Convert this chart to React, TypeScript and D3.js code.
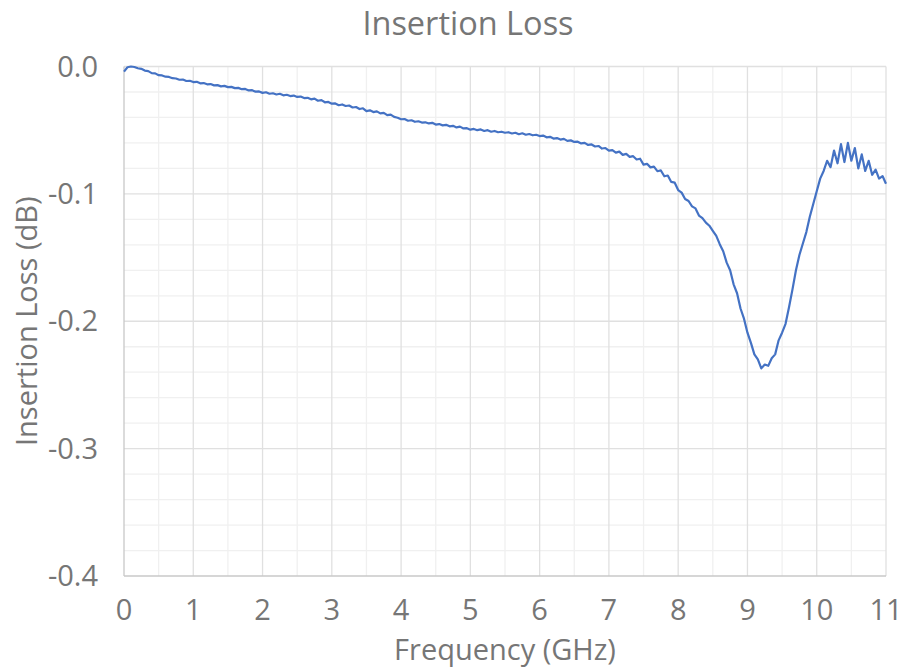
import React, { useEffect, useRef } from 'react';
import * as d3 from 'd3';

// frequency step of the sampled trace (GHz)
const STEP = 0.05;

// Insertion loss (dB), one value every 0.05 GHz from 0 to 11 GHz
const loss: number[] = [
  // 0.00 - 0.95
  -0.0040, -0.0006, 0.0000, -0.0004, -0.0014, -0.0018, -0.0032, -0.0036, -0.0052, -0.0054,
  -0.0068, -0.0070, -0.0080, -0.0082, -0.0092, -0.0094, -0.0104, -0.0102, -0.0114, -0.0112,
  // 1.00 - 1.95
  -0.0122, -0.0120, -0.0132, -0.0130, -0.0140, -0.0138, -0.0148, -0.0146, -0.0156, -0.0152,
  -0.0162, -0.0160, -0.0170, -0.0168, -0.0178, -0.0176, -0.0188, -0.0186, -0.0198, -0.0196,
  // 2.00 - 2.95
  -0.0207, -0.0202, -0.0214, -0.0210, -0.0220, -0.0214, -0.0226, -0.0222, -0.0232, -0.0228,
  -0.0239, -0.0236, -0.0248, -0.0246, -0.0258, -0.0252, -0.0269, -0.0264, -0.0281, -0.0278,
  // 3.00 - 3.95
  -0.0292, -0.0290, -0.0304, -0.0298, -0.0310, -0.0306, -0.0322, -0.0318, -0.0334, -0.0328,
  -0.0350, -0.0344, -0.0358, -0.0352, -0.0368, -0.0364, -0.0382, -0.0378, -0.0396, -0.0402,
  // 4.00 - 4.95
  -0.0414, -0.0412, -0.0426, -0.0422, -0.0434, -0.0430, -0.0440, -0.0438, -0.0447, -0.0442,
  -0.0456, -0.0452, -0.0462, -0.0458, -0.0470, -0.0466, -0.0478, -0.0472, -0.0486, -0.0484,
  // 5.00 - 5.95
  -0.0496, -0.0490, -0.0500, -0.0494, -0.0506, -0.0500, -0.0512, -0.0506, -0.0516, -0.0512,
  -0.0520, -0.0516, -0.0526, -0.0520, -0.0532, -0.0524, -0.0536, -0.0530, -0.0540, -0.0536,
  // 6.00 - 6.95
  -0.0546, -0.0542, -0.0556, -0.0552, -0.0566, -0.0562, -0.0574, -0.0568, -0.0584, -0.0580,
  -0.0592, -0.0590, -0.0604, -0.0600, -0.0616, -0.0612, -0.0628, -0.0624, -0.0644, -0.0640,
  // 7.00 - 7.95
  -0.0660, -0.0656, -0.0676, -0.0668, -0.0694, -0.0686, -0.0710, -0.0704, -0.0730, -0.0724,
  -0.0770, -0.0764, -0.0792, -0.0786, -0.0822, -0.0816, -0.0862, -0.0856, -0.0906, -0.0912,
  // 8.00 - 8.95
  -0.0970, -0.0990, -0.1040, -0.1056, -0.1098, -0.1114, -0.1170, -0.1190, -0.1226, -0.1250,
  -0.1290, -0.1330, -0.1395, -0.1450, -0.1540, -0.1600, -0.1710, -0.1780, -0.1900, -0.1980,
  // 9.00 - 9.95
  -0.2090, -0.2170, -0.2260, -0.2300, -0.2370, -0.2340, -0.2350, -0.2290, -0.2260, -0.2150,
  -0.2090, -0.2020, -0.1890, -0.1750, -0.1600, -0.1480, -0.1390, -0.1300, -0.1180, -0.1080,
  // 10.00 - 10.95
  -0.0980, -0.0880, -0.0820, -0.0740, -0.0790, -0.0660, -0.0760, -0.0610, -0.0750, -0.0600,
  -0.0740, -0.0640, -0.0800, -0.0690, -0.0820, -0.0740, -0.0850, -0.0810, -0.0880, -0.0860,
  // 11.00
  -0.0920,
];

const xTicks = [0, 1, 2, 3, 4, 5, 6, 7, 8, 9, 10, 11];
const yTicks = [0, -0.1, -0.2, -0.3, -0.4];

const W = 906;
const H = 669;
const margin = { top: 66.5, right: 20, bottom: 93, left: 124 };
const textColor = '#767676';
const fontFamily = "'Open Sans', 'Noto Sans', sans-serif";

export default function App() {
  const svgRef = useRef<SVGSVGElement>(null);

  useEffect(() => {
    if (!svgRef.current) return;
    const svg = d3.select(svgRef.current);
    svg.selectAll('*').remove();

    const x = d3.scaleLinear().domain([0, 11]).range([margin.left, W - margin.right]);
    const y = d3.scaleLinear().domain([-0.4, 0]).range([H - margin.bottom, margin.top]);

    svg.append('rect').attr('width', W).attr('height', H).attr('fill', '#fff');

    // minor grid
    const g = svg.append('g');
    g.selectAll('.xminor')
      .data(d3.range(0.5, 11, 1))
      .enter()
      .append('line')
      .attr('x1', d => x(d)).attr('x2', d => x(d))
      .attr('y1', y(0)).attr('y2', y(-0.4))
      .attr('stroke', '#f0f0f0').attr('stroke-width', 1.3);
    g.selectAll('.yminor')
      .data(d3.range(-0.38, 0, 0.02).filter(v => Math.abs(Math.round(v * 50)) % 5 !== 0))
      .enter()
      .append('line')
      .attr('x1', x(0)).attr('x2', x(11))
      .attr('y1', d => y(d)).attr('y2', d => y(d))
      .attr('stroke', '#f0f0f0').attr('stroke-width', 1.3);

    // major grid
    g.selectAll('.xmajor')
      .data(xTicks.slice(1))
      .enter()
      .append('line')
      .attr('x1', d => x(d)).attr('x2', d => x(d))
      .attr('y1', y(0)).attr('y2', y(-0.4))
      .attr('stroke', '#e0e0e0').attr('stroke-width', 1.3);
    g.selectAll('.ymajor')
      .data(yTicks.slice(0, -1))
      .enter()
      .append('line')
      .attr('x1', x(0)).attr('x2', x(11))
      .attr('y1', d => y(d)).attr('y2', d => y(d))
      .attr('stroke', '#e0e0e0').attr('stroke-width', 1.3);

    // axis lines
    svg.append('line')
      .attr('x1', x(0)).attr('x2', x(0))
      .attr('y1', y(0)).attr('y2', y(-0.4))
      .attr('stroke', '#c8c8c8').attr('stroke-width', 1.3);
    svg.append('line')
      .attr('x1', x(0)).attr('x2', x(11))
      .attr('y1', y(-0.4)).attr('y2', y(-0.4))
      .attr('stroke', '#c8c8c8').attr('stroke-width', 1.3);

    // trace
    const line = d3.line<number>()
      .x((_, i) => x(i * STEP))
      .y(d => y(d));
    svg.append('path')
      .datum(loss)
      .attr('fill', 'none')
      .attr('stroke', '#4472C4')
      .attr('stroke-width', 2.2)
      .attr('stroke-linejoin', 'round')
      .attr('d', line);

    // tick labels
    svg.selectAll('.xlab')
      .data(xTicks)
      .enter()
      .append('text')
      .attr('x', d => x(d))
      .attr('y', 620)
      .attr('text-anchor', 'middle')
      .style('font-family', fontFamily)
      .style('font-size', '29px')
      .attr('fill', textColor)
      .text(d => d);

    svg.selectAll('.ylab')
      .data(yTicks)
      .enter()
      .append('text')
      .attr('x', 98)
      .attr('y', d => y(d) + 10)
      .attr('text-anchor', 'end')
      .style('font-family', fontFamily)
      .style('font-size', '29px')
      .attr('fill', textColor)
      .text(d => d3.format('.1f')(d).replace('−', '-'));

    // titles
    svg.append('text')
      .attr('x', 468).attr('y', 35)
      .attr('text-anchor', 'middle')
      .style('font-family', fontFamily)
      .style('font-size', '32.5px')
      .attr('fill', textColor)
      .text('Insertion Loss');

    svg.append('text')
      .attr('x', (x(0) + x(11)) / 2).attr('y', 660)
      .attr('text-anchor', 'middle')
      .style('font-family', fontFamily)
      .style('font-size', '29px')
      .attr('fill', textColor)
      .text('Frequency (GHz)');

    svg.append('text')
      .attr('transform', `translate(37,${(y(0) + y(-0.4)) / 2}) rotate(-90)`)
      .attr('text-anchor', 'middle')
      .style('font-family', fontFamily)
      .style('font-size', '29px')
      .attr('fill', textColor)
      .text('Insertion Loss (dB)');
  }, []);

  return (
    <svg
      ref={svgRef}
      width={W}
      height={H}
      viewBox={`0 0 ${W} ${H}`}
      style={{ position: 'absolute', left: 0, top: 0 }}
    />
  );
}
